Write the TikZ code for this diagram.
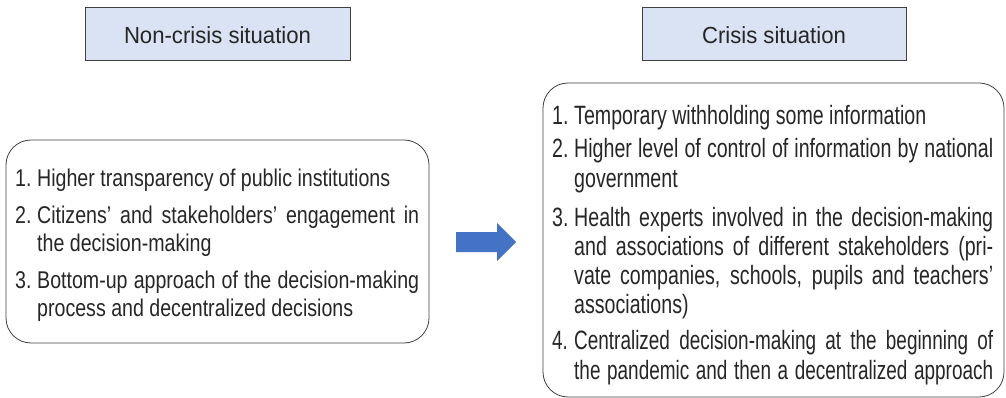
\documentclass[tikz,border=0pt]{standalone}
\usepackage{fontspec}
\setmainfont{Liberation Sans}
\newfontfamily\lfont{Liberation Sans}[FakeStretch=0.81]
\newfontfamily\rfont{Liberation Sans}[FakeStretch=0.74]
\newfontfamily\rfontn{Liberation Sans}[FakeStretch=0.715]
\newfontfamily\hfont{Liberation Sans}[FakeStretch=0.95]
\definecolor{hdrblue}{HTML}{DAE3F3}
\definecolor{arrowblue}{HTML}{4472C4}
\definecolor{txt}{HTML}{262626}
\definecolor{edge}{HTML}{404040}
\newcommand{\lnum}[1]{\makebox[22pt][l]{#1}}
\begin{document}
\begin{tikzpicture}[x=1pt,y=-1pt,
  hdr/.style={draw=edge, fill=hdrblue, line width=0.9pt, minimum width=#1, minimum height=53, inner sep=0pt},
  hdrtext/.style={anchor=base, inner sep=0pt, text=txt, font=\hfont\fontsize{23.3}{28}\selectfont},
  panel/.style={draw=edge, line width=0.8pt, rounded corners=25pt},
  ltext/.style={anchor=base west, inner sep=0pt, text=txt, font=\lfont\fontsize{24.2}{28}\selectfont},
  rtext/.style={anchor=base west, inner sep=0pt, text=txt, font=\rfont\fontsize{26.5}{30}\selectfont},
  rtextn/.style={rtext, font=\rfontn\fontsize{26.5}{30}\selectfont}]
\useasboundingbox (0,0) rectangle (1006,398);
% headers
\node[hdr=265] (nc) at (217.5,33.5) {};
\node[hdrtext] (nct) at (217.5,44) {Non-crisis situation};
\node[hdr=264] (cr) at (774,33.5) {};
\node[hdrtext] (crt) at (774,44) {Crisis situation};
% panels
\draw[panel] (6,140) rectangle (429,343);
\draw[panel] (543,83) rectangle (1004,397);
% arrow
\fill[arrowblue] (456,232) -- (497,232) -- (497,223) -- (516,242) -- (497,261) -- (497,252) -- (456,252) -- cycle;
% left text
\node[ltext] (l1) at (15,186) {\lnum{1.}Higher transparency of public institutions};
\node[ltext] (l2) at (15,223) {\lnum{2.}\makebox[382pt][s]{Citizens’ and stakeholders’ engagement in}};
\node[ltext] (l3) at (37,251) {the decision-making};
\node[ltext] (l4) at (15,288) {\lnum{3.}\makebox[382pt][s]{Bottom-up approach of the decision-making}};
\node[ltext] (l5) at (37,316) {process and decentralized decisions};
% right text
\node[rtext] (r1) at (552,125) {\lnum{1.}Temporary withholding some information};
\node[rtext] (r2) at (552,158) {\lnum{2.}\makebox[419pt][s]{Higher level of control of information by national}};
\node[rtext] (r3) at (574,188) {government};
\node[rtext] (r4) at (552,226) {\lnum{3.}\makebox[419pt][s]{Health experts involved in the decision-making}};
\node[rtext] (r5) at (574,255) {\makebox[419pt][s]{and associations of different stakeholders (pri-}};
\node[rtext] (r6) at (574,284) {\makebox[419pt][s]{vate companies, schools, pupils and teachers’}};
\node[rtext] (r7) at (574,313) {associations)};
\node[rtextn] (r8) at (552,349) {\lnum{4.}\makebox[419pt][s]{Centralized decision-making at the beginning of}};
\node[rtextn] (r9) at (574,379) {\makebox[419pt][s]{the pandemic and then a decentralized approach}};
\end{tikzpicture}
\end{document}
